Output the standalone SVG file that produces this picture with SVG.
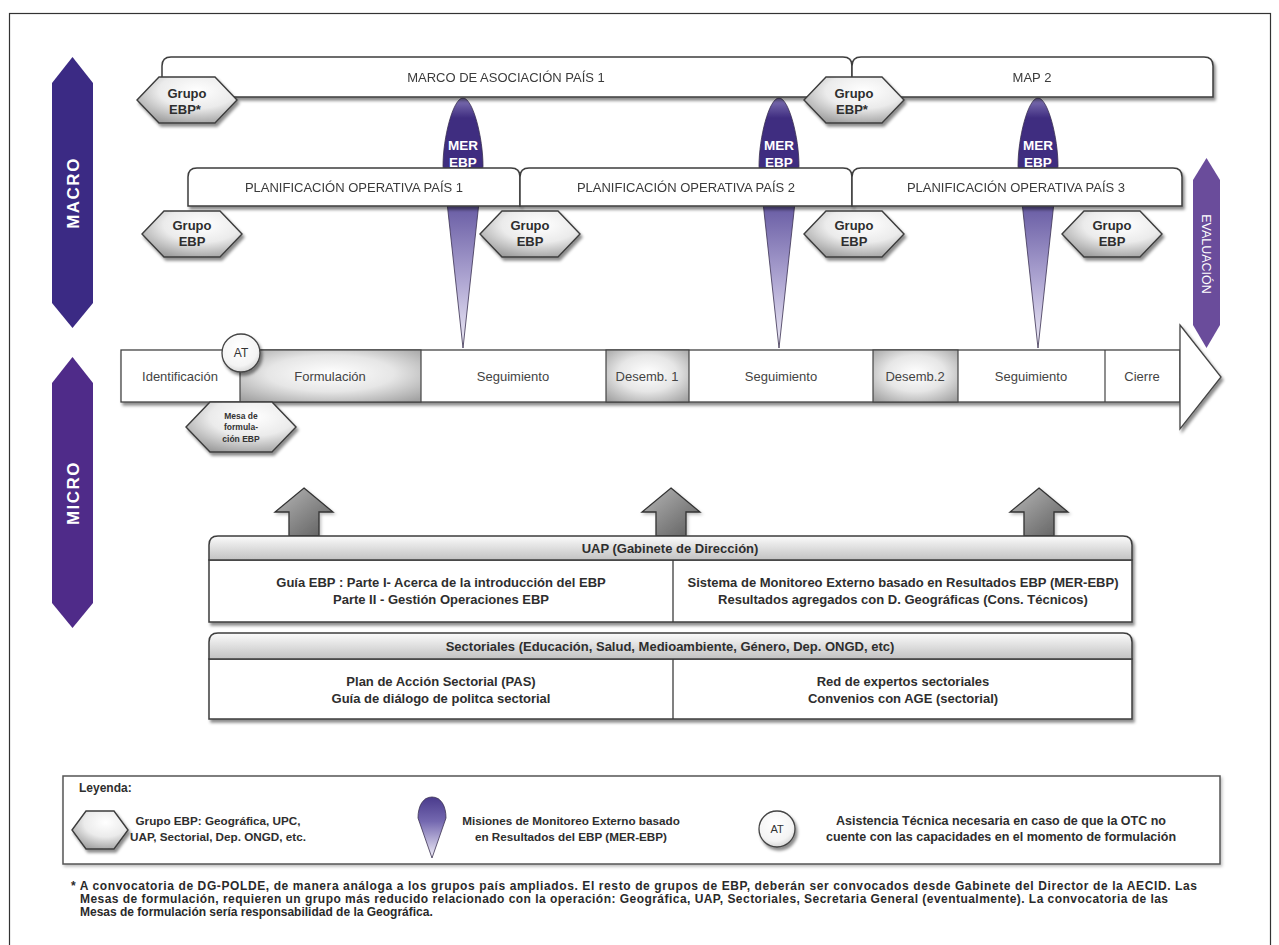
<svg xmlns="http://www.w3.org/2000/svg" width="1279" height="945" viewBox="0 0 1279 945">
  <defs>
    <style>
      text { font-family: "Liberation Sans", Arial, sans-serif; fill: #333; }
      .bar { fill: #fff; stroke: #3c3c3c; stroke-width: 1.5; }
      .barlbl { font-size: 13px; text-anchor: middle; fill: #3a3a3a; }
      .hex { fill: url(#hexGrad); stroke: #3c3c3c; stroke-width: 1.4; }
      .hexlbl { font-size: 13px; font-weight: bold; text-anchor: middle; fill: #2e2e2e; }
      .mer { fill: url(#merGrad); stroke: #3a3050; stroke-width: 0.8; }
      .merlbl { font-size: 13.5px; font-weight: bold; text-anchor: middle; fill: #fff; }
      .cell { stroke: #444; stroke-width: 1.2; }
      .celllbl { font-size: 13px; text-anchor: middle; fill: #444; }
      .box { fill: #fff; stroke: #3c3c3c; stroke-width: 1.5; }
      .head { fill: url(#headGrad); stroke: #3c3c3c; stroke-width: 1.5; }
      .boxlbl { font-size: 13px; font-weight: bold; text-anchor: middle; fill: #2e2e2e; }
      .uparrow { fill: url(#upGrad); stroke: #333; stroke-width: 1.3; }
      .legend { font-size: 11.7px; font-weight: bold; text-anchor: middle; fill: #2e2e2e; }
      .note { font-size: 12px; font-weight: bold; fill: #2a2a2a; }
      .side { font-size: 17px; font-weight: bold; fill: #fff; text-anchor: middle; letter-spacing: 1.5px; }
    </style>
    <filter id="sh" x="-10%" y="-20%" width="130%" height="160%">
      <feDropShadow dx="2" dy="3" stdDeviation="1.6" flood-color="#000" flood-opacity="0.45"/>
    </filter>
    <filter id="shLight" x="-5%" y="-10%" width="115%" height="130%">
      <feDropShadow dx="1.5" dy="2" stdDeviation="1.5" flood-color="#000" flood-opacity="0.25"/>
    </filter>
    <radialGradient id="hexGrad" cx="0.6" cy="0.3" r="0.85">
      <stop offset="0" stop-color="#ffffff"/>
      <stop offset="0.45" stop-color="#ebebeb"/>
      <stop offset="1" stop-color="#8a8a8a"/>
    </radialGradient>
    <radialGradient id="cellGrad" cx="0.5" cy="0.45" r="0.7">
      <stop offset="0" stop-color="#ffffff"/>
      <stop offset="0.5" stop-color="#e6e6e6"/>
      <stop offset="1" stop-color="#a2a2a2"/>
    </radialGradient>
    <linearGradient id="headGrad" x1="0" y1="0" x2="0" y2="1">
      <stop offset="0" stop-color="#fbfbfb"/>
      <stop offset="1" stop-color="#c2c2c2"/>
    </linearGradient>
    <linearGradient id="upGrad" x1="0" y1="0" x2="1" y2="1">
      <stop offset="0" stop-color="#b8b8b8"/>
      <stop offset="1" stop-color="#5c5c5c"/>
    </linearGradient>
    <linearGradient id="merGrad" x1="0" y1="0" x2="0" y2="1">
      <stop offset="0" stop-color="#8276b6"/>
      <stop offset="0.08" stop-color="#3f2d80"/>
      <stop offset="0.3" stop-color="#3f2d80"/>
      <stop offset="0.45" stop-color="#6d61a7"/>
      <stop offset="0.75" stop-color="#b3abd5"/>
      <stop offset="1" stop-color="#efecf7"/>
    </linearGradient>
    <linearGradient id="pinGrad" x1="0" y1="0" x2="0" y2="1">
      <stop offset="0" stop-color="#4a3b8c"/>
      <stop offset="0.4" stop-color="#7468b0"/>
      <stop offset="1" stop-color="#f2f0f9"/>
    </linearGradient>
    <radialGradient id="atGrad" cx="0.45" cy="0.35" r="0.7">
      <stop offset="0" stop-color="#ffffff"/>
      <stop offset="0.7" stop-color="#f4f4f4"/>
      <stop offset="1" stop-color="#d0d0d0"/>
    </radialGradient>
    <path id="drop" d="M0,0 C10,0 20,40 20,68 L0,250 L-20,68 C-20,40 -10,0 0,0 Z"/>
  </defs>

  <rect x="0" y="0" width="1279" height="945" fill="#fff"/>
  <rect x="9.5" y="13.5" width="1261" height="945" fill="none" stroke="#333" stroke-width="1.2"/>

  <!-- level markers -->
  <g id="macro">
    <polygon points="52,83 72.5,57 93,83 93,303 72.5,328 52,303" fill="#3b2a84"/>
    <text class="side" x="72.5" y="199" transform="rotate(-90 72.5 193)">MACRO</text>
  </g>
  <g id="micro">
    <polygon points="52,383 72.5,357 93,383 93,603 72.5,628 52,603" fill="#4f2b89"/>
    <text class="side" x="72.5" y="499" transform="rotate(-90 72.5 493)">MICRO</text>
  </g>
  <g id="evaluacion">
    <polygon points="1193,180 1206.5,158 1220,180 1220,325 1206.5,348 1193,325" fill="#6a4c9b"/>
    <text x="1206.5" y="258.5" transform="rotate(90 1206.5 254)" style="font-size:12.5px;fill:#fff;text-anchor:middle">EVALUACIÓN</text>
  </g>

  <!-- external monitoring missions -->
  <g id="mer1">
    <use href="#drop" class="mer" transform="translate(463,98)"/>
  </g>
  <g id="mer2">
    <use href="#drop" class="mer" transform="translate(779,98)"/>
  </g>
  <g id="mer3">
    <use href="#drop" class="mer" transform="translate(1038,98)"/>
  </g>

  <!-- partnership frameworks -->
  <g id="map1" filter="url(#sh)">
    <path class="bar" d="M162,97 L162,66 Q162,57 171,57 L843,57 Q852,57 852,66 L852,97 Z"/>
    <text class="barlbl" x="506" y="82">MARCO DE ASOCIACIÓN PAÍS 1</text>
  </g>
  <g id="map2" filter="url(#sh)">
    <path class="bar" d="M852,97 L852,66 Q852,57 861,57 L1204,57 Q1213,57 1213,66 L1213,97 Z"/>
    <text class="barlbl" x="1032" y="82">MAP 2</text>
  </g>

  <!-- MER labels over the drops -->
  <g id="mer-labels">
    <text class="merlbl" x="463" y="150">MER</text>
    <text class="merlbl" x="463" y="167">EBP</text>
    <text class="merlbl" x="779" y="150">MER</text>
    <text class="merlbl" x="779" y="167">EBP</text>
    <text class="merlbl" x="1038" y="150">MER</text>
    <text class="merlbl" x="1038" y="167">EBP</text>
  </g>

  <!-- operational planning -->
  <g id="po1" filter="url(#sh)">
    <path class="bar" d="M188,206 L188,177 Q188,168 197,168 L511,168 Q520,168 520,177 L520,206 Z"/>
    <text class="barlbl" x="354" y="192">PLANIFICACIÓN OPERATIVA PAÍS 1</text>
  </g>
  <g id="po2" filter="url(#sh)">
    <path class="bar" d="M520,206 L520,177 Q520,168 529,168 L843,168 Q852,168 852,177 L852,206 Z"/>
    <text class="barlbl" x="686" y="192">PLANIFICACIÓN OPERATIVA PAÍS 2</text>
  </g>
  <g id="po3" filter="url(#sh)">
    <path class="bar" d="M852,206 L852,177 Q852,168 861,168 L1173,168 Q1182,168 1182,177 L1182,206 Z"/>
    <text class="barlbl" x="1016" y="192">PLANIFICACIÓN OPERATIVA PAÍS 3</text>
  </g>

  <!-- EBP groups -->
  <g id="grupo-map1">
    <polygon class="hex" filter="url(#sh)" points="137,100 159,77 215,77 237,100 215,123 159,123"/>
    <text class="hexlbl" x="187" y="98">Grupo</text>
    <text class="hexlbl" x="185" y="114">EBP*</text>
  </g>
  <g id="grupo-map2">
    <polygon class="hex" filter="url(#sh)" points="804,100 826,77 882,77 904,100 882,123 826,123"/>
    <text class="hexlbl" x="854" y="98">Grupo</text>
    <text class="hexlbl" x="852" y="114">EBP*</text>
  </g>
  <g id="grupo-po1">
    <polygon class="hex" filter="url(#sh)" points="142,234 164,211 220,211 242,234 220,257 164,257"/>
    <text class="hexlbl" x="192" y="230">Grupo</text>
    <text class="hexlbl" x="192" y="246">EBP</text>
  </g>
  <g id="grupo-po2">
    <polygon class="hex" filter="url(#sh)" points="480,234 502,211 558,211 580,234 558,257 502,257"/>
    <text class="hexlbl" x="530" y="230">Grupo</text>
    <text class="hexlbl" x="530" y="246">EBP</text>
  </g>
  <g id="grupo-po3">
    <polygon class="hex" filter="url(#sh)" points="804,234 826,211 882,211 904,234 882,257 826,257"/>
    <text class="hexlbl" x="854" y="230">Grupo</text>
    <text class="hexlbl" x="854" y="246">EBP</text>
  </g>
  <g id="grupo-po-end">
    <polygon class="hex" filter="url(#sh)" points="1062,234 1084,211 1140,211 1162,234 1140,257 1084,257"/>
    <text class="hexlbl" x="1112" y="230">Grupo</text>
    <text class="hexlbl" x="1112" y="246">EBP</text>
  </g>

  <!-- operation cycle -->
  <g id="ciclo">
    <g filter="url(#sh)">
      <rect x="121" y="350" width="1059" height="52" fill="#fff" stroke="#444" stroke-width="1.3"/>
      <polygon points="1180,325 1221,377 1180,429" fill="#fff" stroke="#444" stroke-width="1.3"/>
    </g>
    <rect class="cell" x="240" y="350" width="181" height="52" fill="url(#cellGrad)"/>
    <rect class="cell" x="606" y="350" width="83" height="52" fill="url(#cellGrad)"/>
    <rect class="cell" x="873" y="350" width="85" height="52" fill="url(#cellGrad)"/>
    <line class="cell" x1="1105" y1="350" x2="1105" y2="402"/>
    <text class="celllbl" x="180" y="381">Identificación</text>
    <text class="celllbl" x="330" y="381">Formulación</text>
    <text class="celllbl" x="513" y="381">Seguimiento</text>
    <text class="celllbl" x="647" y="381">Desemb. 1</text>
    <text class="celllbl" x="781" y="381">Seguimiento</text>
    <text class="celllbl" x="915" y="381">Desemb.2</text>
    <text class="celllbl" x="1031" y="381">Seguimiento</text>
    <text class="celllbl" x="1142" y="381">Cierre</text>
  </g>
  <g id="at">
    <circle cx="241" cy="353" r="19" fill="url(#atGrad)" stroke="#444" stroke-width="1.3" filter="url(#sh)"/>
    <text x="241" y="357" style="font-size:12px;text-anchor:middle;fill:#333">AT</text>
  </g>
  <g id="mesa">
    <polygon class="hex" filter="url(#sh)" points="186,427 210,402 272,402 296,427 272,452 210,452"/>
    <text x="241" y="419" style="font-size:8.5px;font-weight:bold;text-anchor:middle;fill:#333">Mesa de</text>
    <text x="241" y="430" style="font-size:8.5px;font-weight:bold;text-anchor:middle;fill:#333">formula-</text>
    <text x="241" y="442" style="font-size:8.5px;font-weight:bold;text-anchor:middle;fill:#333">ción EBP</text>
  </g>

  <!-- support flowing up into the cycle -->
  <g id="connectors">
    <path class="uparrow" d="M304,488 L333,512 L319,512 L319,536 L289,536 L289,512 L275,512 Z" filter="url(#shLight)"/>
    <path class="uparrow" d="M671,488 L700,512 L686,512 L686,536 L656,536 L656,512 L642,512 Z" filter="url(#shLight)"/>
    <path class="uparrow" d="M1039,488 L1068,512 L1054,512 L1054,536 L1024,536 L1024,512 L1010,512 Z" filter="url(#shLight)"/>
  </g>

  <!-- UAP -->
  <g id="uap">
    <g filter="url(#sh)">
      <rect class="box" x="209" y="560" width="923" height="62"/>
      <path class="head" d="M209,560 L209,545 Q209,536 218,536 L1123,536 Q1132,536 1132,545 L1132,560 Z"/>
    </g>
    <line x1="673" y1="560" x2="673" y2="622" stroke="#3c3c3c" stroke-width="1.3"/>
    <text class="boxlbl" x="670" y="553">UAP (Gabinete de Dirección)</text>
    <text class="boxlbl" x="441" y="587">Guía EBP : Parte I- Acerca de la introducción del EBP</text>
    <text class="boxlbl" x="441" y="604">Parte II - Gestión Operaciones EBP</text>
    <text class="boxlbl" x="903" y="587">Sistema de Monitoreo Externo basado en Resultados EBP (MER-EBP)</text>
    <text class="boxlbl" x="903" y="604">Resultados agregados con D. Geográficas (Cons. Técnicos)</text>
  </g>

  <!-- Sectoriales -->
  <g id="sectoriales">
    <g filter="url(#sh)">
      <rect class="box" x="209" y="659" width="923" height="60"/>
      <path class="head" d="M209,659 L209,642 Q209,633 218,633 L1123,633 Q1132,633 1132,642 L1132,659 Z"/>
    </g>
    <line x1="673" y1="659" x2="673" y2="719" stroke="#3c3c3c" stroke-width="1.3"/>
    <text class="boxlbl" x="670" y="651">Sectoriales (Educación, Salud, Medioambiente, Género, Dep. ONGD, etc)</text>
    <text class="boxlbl" x="441" y="686">Plan de Acción Sectorial (PAS)</text>
    <text class="boxlbl" x="441" y="703">Guía de diálogo de politca sectorial</text>
    <text class="boxlbl" x="903" y="686">Red de expertos sectoriales</text>
    <text class="boxlbl" x="903" y="703">Convenios con AGE (sectorial)</text>
  </g>

  <!-- legend -->
  <g id="leyenda">
    <rect x="63" y="776" width="1157" height="88" fill="#fff" stroke="#555" stroke-width="1.5" filter="url(#shLight)"/>
    <text x="79" y="792" style="font-size:12px;font-weight:bold;fill:#2e2e2e">Leyenda:</text>
    <polygon class="hex" filter="url(#sh)" points="72,830 86,811 114,811 128,830 114,849 86,849"/>
    <text class="legend" x="218" y="825">Grupo EBP: Geográfica, UPC,</text>
    <text class="legend" x="218" y="841">UAP, Sectorial, Dep. ONGD, etc.</text>
    <path d="M432,797 C441,797 446,806 446,818 L432,858 L418,818 C418,806 423,797 432,797 Z" fill="url(#pinGrad)" stroke="#3a3050" stroke-width="0.8"/>
    <text class="legend" x="571" y="825">Misiones de Monitoreo Externo basado</text>
    <text class="legend" x="571" y="841">en Resultados del EBP (MER-EBP)</text>
    <circle cx="777" cy="829" r="18" fill="url(#atGrad)" stroke="#444" stroke-width="1.3" filter="url(#sh)"/>
    <text x="777" y="833" style="font-size:11px;text-anchor:middle;fill:#333">AT</text>
    <text class="legend" x="1001" y="825" style="font-size:12.5px">Asistencia Técnica necesaria en caso de que la OTC no</text>
    <text class="legend" x="1001" y="841" style="font-size:12.5px">cuente con las capacidades en el momento de formulación</text>
  </g>

  <!-- footnote -->
  <g id="nota">
    <text class="note" x="71" y="890" textLength="1126">* A convocatoria de DG-POLDE, de manera análoga a los grupos país ampliados. El resto de grupos de EBP, deberán ser convocados desde Gabinete del Director de la AECID. Las</text>
    <text class="note" x="80" y="903" textLength="1088">Mesas de formulación, requieren un grupo más reducido relacionado con la operación: Geográfica, UAP, Sectoriales, Secretaria General (eventualmente). La convocatoria de las</text>
    <text class="note" x="80" y="916">Mesas de formulación sería responsabilidad de la Geográfica.</text>
  </g>
</svg>
